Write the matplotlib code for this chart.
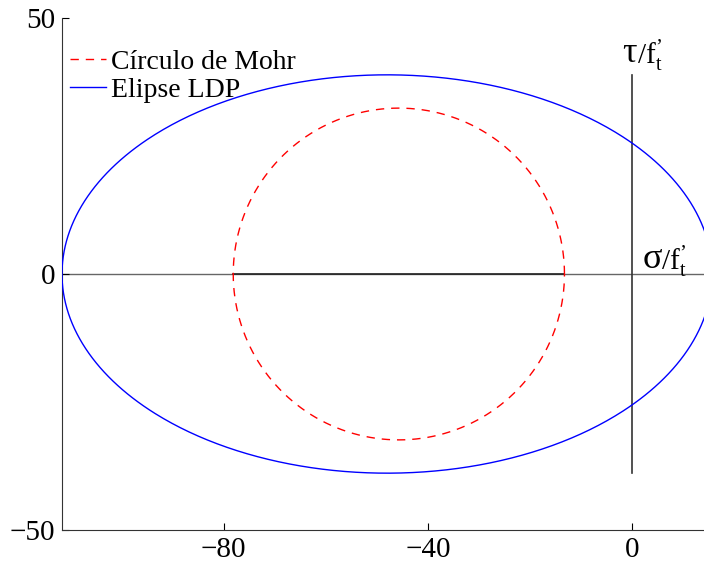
import numpy as np
import matplotlib.pyplot as plt

plt.rcParams["font.family"] = ["Liberation Serif", "DejaVu Serif"]
plt.rcParams["mathtext.fontset"] = "custom"
plt.rcParams["mathtext.rm"] = "Liberation Serif"

# Mohr circle and LDP ellipse parameters (stress / f't)
circle_center = -45.7
circle_radius = 32.4
ellipse_center = -48.0
ellipse_a = 63.6
ellipse_b = 38.9
tau_axis_half = 38.8

xlim = (-111.6, 14.0)
ylim = (-50, 50)
xticks = [-80, -40, 0]
yticks = [-50, 0, 50]

t = np.linspace(0, 2 * np.pi, 721)

fig = plt.figure(figsize=(7.04, 5.72), dpi=100)
ax = fig.add_axes([62 / 704, 1 - 530 / 572, 1 - 62 / 704, 512 / 572])

# reference axes through the origin
ax.plot(xlim, [0, 0], color="#666666", lw=1.0, zorder=1)
ax.plot([circle_center - circle_radius, circle_center + circle_radius], [0, 0],
        color="#222222", lw=1.2, zorder=2)
ax.plot([0, 0], [-tau_axis_half, tau_axis_half], color="#333333", lw=1.2, zorder=2)

ax.plot(circle_center + circle_radius * np.cos(t), circle_radius * np.sin(t),
        color="red", ls=(0, (6, 5)), lw=1.0, label="Círculo de Mohr", zorder=3)
ax.plot(ellipse_center + ellipse_a * np.cos(t), ellipse_b * np.sin(t),
        color="blue", lw=1.0, label="Elipse LDP", zorder=3)


def axis_label(symbol, xy, dx, dy, gap):
    # greek symbol, then "/f'" with a subscript t
    kw = dict(xy=xy, textcoords="offset pixels", ha="left", va="baseline",
              annotation_clip=False)
    ax.annotate(symbol, xytext=(dx, dy), fontsize=26, **kw)
    ax.annotate("/$\\mathregular{f^{\u2019}_{t}}$", xytext=(dx + gap, dy - 2),
                fontsize=21, **kw)


axis_label("\u03c4", (0, tau_axis_half), -10, 13, 15)
axis_label("\u03c3", (0, 0), 10, 6, 19)

ax.set_xlim(xlim)
ax.set_ylim(ylim)
ax.set_xticks(xticks)
ax.set_yticks(yticks)
ax.set_xticklabels(["\u221280", "\u221240", "0"])
ax.set_yticklabels(["\u221250", "0", "50"])
ax.tick_params(direction="in", length=5, width=0.8, labelsize=21, pad=5)
for side in ("top", "right"):
    ax.spines[side].set_visible(False)
for side in ("left", "bottom"):
    ax.spines[side].set_color("#333333")

ax.legend(loc="upper left", bbox_to_anchor=(0.0, 0.955), frameon=False,
          fontsize=20, handlelength=1.3, handletextpad=0.15, labelspacing=0.1,
          borderaxespad=0.0, borderpad=0.3)

fig.savefig("out.png", dpi=100)
